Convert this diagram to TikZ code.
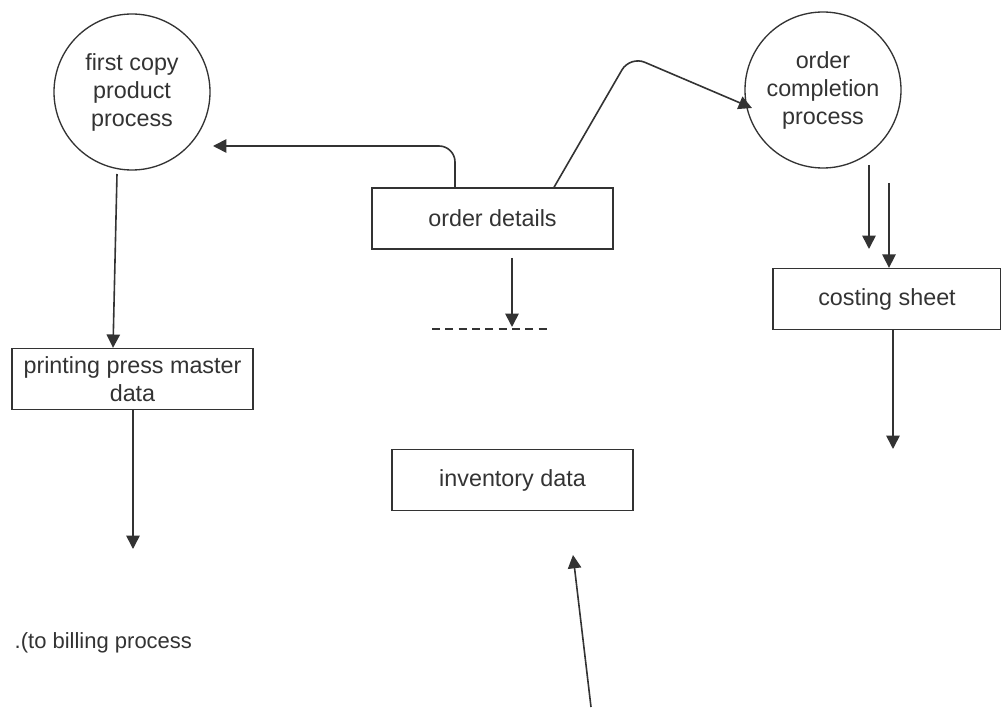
\documentclass[tikz,border=0pt]{standalone}
\usepackage{fontspec}
\setmainfont{Liberation Sans}
\usetikzlibrary{arrows.meta}
\begin{document}
\begin{tikzpicture}[x=0.75pt,y=-0.75pt,
  every node/.style={font=\fontsize{17.5}{21}\selectfont, text=black!80},
  proc/.style={draw=black!80, line width=1pt, circle, minimum size=156*0.75pt, inner sep=0pt, align=center},
  store/.style={draw=black!80, line width=1pt, rectangle, minimum width=241*0.75pt, minimum height=61*0.75pt, inner sep=0pt, align=center},
  flow/.style={draw=black!80, line width=1.2pt, -{Triangle[length=10pt,width=10pt]}}]
\useasboundingbox (0,0) rectangle (1001,709);
\node[proc] (p1) at (132,92) {first copy\\product\\process};
\node[proc] (p2) at (823,90) {order\\completion\\process};
\node[store] (od) at (492.5,218.5) {order details};
\node[store] (pp) at (132.5,379) {printing press master\\data};
\node[store, minimum width=228*0.75pt] (cs) at (887,299) {costing sheet};
\node[store] (inv) at (512.5,480) {inventory data};
\coordinate (a1) at (213,146);
\draw[flow, rounded corners=12pt] (od.north -| 455,0) -- (455,146) -- (a1);
\coordinate (a2) at (752,108);
\draw[flow, rounded corners=12pt] (od.north -| 554,0) -- (630,56) -- (a2);
\draw[flow] (117,174) -- (pp.north -| 113,0);
\coordinate (d1) at (432,329);
\coordinate (d2) at (548,329);
\draw[black!80, line width=0.9pt, dash pattern=on 6pt off 4pt] (d1) -- (d2);
\coordinate (s1) at (512,258);
\draw[flow] (s1) -- (512,327);
\draw[flow] (869,165) -- (869,249);
\coordinate (t2) at (889,183);
\draw[flow] (t2) -- (cs.north -| 889,0);
\coordinate (e3) at (893,449);
\draw[flow] (cs.south -| 893,0) -- (e3);
\coordinate (e4) at (133,549);
\draw[flow] (pp.south -| 133,0) -- (e4);
\coordinate (s5) at (591,707);
\coordinate (e5) at (573,555);
\draw[flow] (s5) -- (e5);
\node[anchor=west, font=\fontsize{16.5}{19}\selectfont] (bill) at (10,643) {.(to billing process};
\end{tikzpicture}
\end{document}
